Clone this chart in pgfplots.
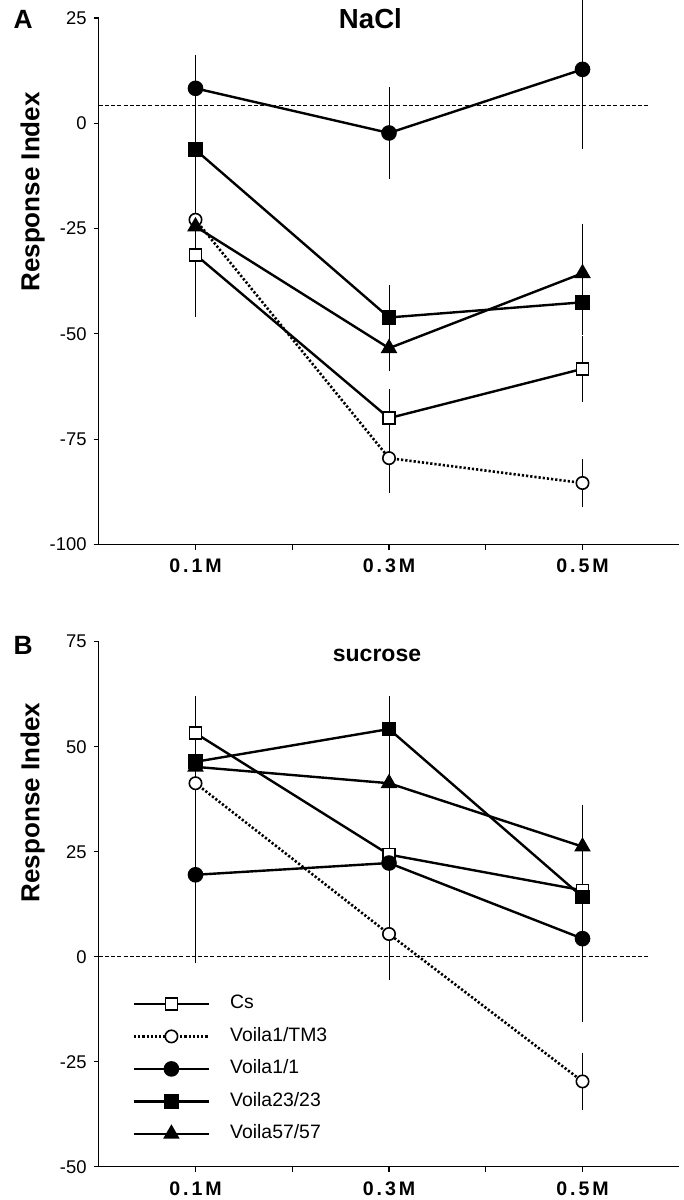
\documentclass[border=0pt]{standalone}
\usepackage{pgfplots}
\pgfplotsset{compat=1.18}
\usepackage{fontspec}
\setmainfont{Liberation Sans}
\begin{document}
\pgfplotsset{
  myaxis/.style={
    scale only axis, width=290.25pt,
    xmin=0.5, xmax=3.5,
    axis lines*=left,
    axis line style={line width=0.6pt, black},
    tick align=outside, major tick length=2.6pt,
    tick style={line width=0.6pt, black},
    xtick={1,1.5,2,2.5,3}, xticklabels={0.1M,,0.3M,,0.5M},
    xticklabel style={font=\bfseries\fontsize{9.8}{10}\selectfont\addfontfeature{LetterSpace=15}, yshift=-1.2pt},
    yticklabel style={font=\fontsize{9.2}{10}\selectfont},
    clip=false,
    error bars/y dir=both, error bars/y explicit,
    error bars/error bar style={line width=0.5pt, solid, black},
    error bars/error mark options={line width=0.5pt, solid, black, mark size=1.7pt},
  },
  cs/.style={black, solid, line width=1.2pt, mark=square*, mark size=3pt, mark options={fill=white, solid, line width=0.8pt}},
  tm/.style={black, dash pattern=on 1.1pt off 1pt, line width=1.3pt, mark=*, mark size=3.1pt, mark options={fill=white, solid, line width=0.8pt}},
  vone/.style={black, solid, line width=1.2pt, mark=*, mark size=3.3pt, mark options={fill=black, solid}},
  vtwo/.style={black, solid, line width=1.2pt, mark=square*, mark size=3.1pt, mark options={fill=black, solid}},
  vfive/.style={black, solid, line width=1.2pt, mark=triangle*, mark size=3.6pt, mark options={fill=black, solid}},
  zeroline/.style={black, line width=0.6pt, dash pattern=on 2pt off 1.1pt, error bars/y dir=none, forget plot},
}
\begin{tikzpicture}
\useasboundingbox (0pt,0pt) rectangle (339pt,600pt);
% ---------------- Panel A ----------------
\begin{axis}[myaxis, at={(46.6pt,327.75pt)}, anchor=south west, height=263.25pt,
  ymin=-100, ymax=25, ytick={-100,-75,-50,-25,0,25},
  yticklabels={-100,-75,-50,-25,0,25}]
\addplot[zeroline] coordinates {(0.5,4.3) (3.34,4.3)};
\addplot[cs] coordinates {(1,-31.2) +- (0,13.9) (2,-70.0) +- (0,6) (3,-58.3) +- (0,7)};
\addplot[tm] coordinates {(1,-22.9) +- (0,11) (2,-79.5) +- (0,7.5) (3,-85.4) +- (0,5)};
\addplot[vone] coordinates {(1,8.3) +- (0,7.1) (2,-2.3) +- (0,10.1) (3,12.8) +- (0,18)};
\addplot[vtwo] coordinates {(1,-6.3) +- (0,9.9) (2,-46.1) +- (0,6.8) (3,-42.5) +- (0,7)};
\addplot[vfive] coordinates {(1,-24.5) +- (0,11) (2,-53.4) +- (0,4.7) (3,-35.6) +- (0,11)};
\node[font=\bfseries\fontsize{13.8}{14}\selectfont, anchor=base] at (axis cs:1.904,22.4) {NaCl};
\node[font=\bfseries\fontsize{13.2}{14}\selectfont, anchor=center] at (axis cs:0.109,24.7) {A};
\node[font=\bfseries\fontsize{13}{14}\selectfont, rotate=90, anchor=center] at (axis cs:0.158,-16.3) {Response Index};
\end{axis}
% ---------------- Panel B ----------------
\begin{axis}[myaxis, at={(46.6pt,16.65pt)}, anchor=south west, height=262.5pt,
  ymin=-50, ymax=75, ytick={-50,-25,0,25,50,75},
  yticklabels={-50,-25,0,25,50,75},
  legend style={draw=none, fill=none, at={(axis cs:0.675,-9.1)}, anchor=north west,
    font=\fontsize{9.7}{10}\selectfont, inner sep=0pt, outer sep=0pt,
    nodes={inner sep=0pt, text height=7pt, text depth=2pt},
    row sep=7.25pt, column sep=10pt},
  legend cell align=left,
  legend image code/.code={\draw[mark repeat=2, mark phase=2, #1] plot coordinates {(0pt,0pt) (18.75pt,0pt) (37.5pt,0pt)};}]
\addplot[zeroline] coordinates {(0.5,0) (3.34,0)};
\addplot[cs] coordinates {(1,53.2) +- (0,8.1) (2,24.3) +- (0,8.5) (3,15.8) +- (0,4)};
\addlegendentry{Cs}
\addplot[tm] coordinates {(1,41.3) +- (0,10) (2,5.4) +- (0,10.1) (3,-29.7) +- (0,6)};
\addlegendentry{Voila1/TM3}
\addplot[vone] coordinates {(1,19.5) +- (0,20.3) (2,22.3) +- (0,11) (3,4.3) +- (0,19)};
\addlegendentry{Voila1/1}
\addplot[vtwo] coordinates {(1,46.4) +- (0,13) (2,54.2) +- (0,7) (3,14.2) +- (0,6)};
\addlegendentry{Voila23/23}
\addplot[vfive] coordinates {(1,45.2) +- (0,14) (2,41.3) +- (0,8.6) (3,26.2) +- (0,9.2)};
\addlegendentry{Voila57/57}
\node[font=\bfseries\fontsize{11.5}{12}\selectfont, anchor=base] at (axis cs:1.938,70.3) {sucrose};
\node[font=\bfseries\fontsize{13.2}{14}\selectfont, anchor=center] at (axis cs:0.109,74.0) {B};
\node[font=\bfseries\fontsize{13}{14}\selectfont, rotate=90, anchor=center] at (axis cs:0.158,36.7) {Response Index};
\end{axis}
\end{tikzpicture}
\end{document}
